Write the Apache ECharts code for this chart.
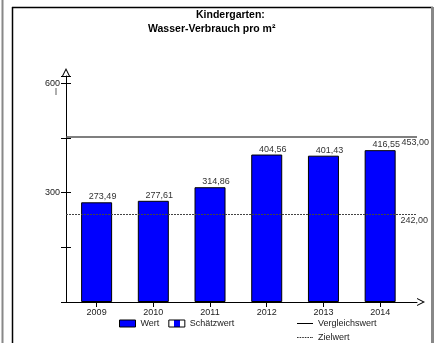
<!DOCTYPE html>
<html>
<head>
<meta charset="utf-8">
<script src="https://cdn.jsdelivr.net/npm/echarts@6/dist/echarts.min.js"></script>
<style>html,body{margin:0;padding:0;background:#fff;}#c{width:435px;height:343px;}</style>
</head>
<body>
<div id="c"></div>
<script>
const years = ['2009', '2010', '2011', '2012', '2013', '2014'];
const wert = [273.49, 277.61, 314.86, 404.56, 401.43, 416.55];
const schaetzwert = [];
const vergleichswert = 453.00;
const zielwert = 242.00;
const yLabelsShown = [300, 600];

const fmt = v => Number(v).toFixed(2).replace('.', ',');
const FONT = 'Liberation Sans, Arial, sans-serif';
const chart = echarts.init(document.getElementById('c'), null, {renderer: 'canvas'});
const arrowUp = 'path://M0,10 L5,0 L10,10 L8.6,10 L5,2.8 L1.4,10 Z';
const stripe = new echarts.graphic.LinearGradient(0, 0, 1, 0, [
  {offset: 0, color: '#fff'}, {offset: 0.32, color: '#fff'},
  {offset: 0.32, color: '#0000ff'}, {offset: 0.68, color: '#0000ff'},
  {offset: 0.68, color: '#fff'}, {offset: 1, color: '#fff'}
]);
const solidIcon = 'path://M0,0 L16,0 L16,1 L0,1 Z';
const dashIcon = 'path://M0,0h1.6v1h-1.6z M2.6,0h1.6v1h-1.6z M5.2,0h1.6v1h-1.6z M7.8,0h1.6v1h-1.6z M10.4,0h1.6v1h-1.6z M13,0h1.6v1h-1.6z M15.2,0h0.8v1h-0.8z';
const idx = years.map((y, i) => i);

chart.setOption({
  animation: false,
  backgroundColor: '#fff',
  textStyle: {fontFamily: FONT},
  title: [
    {text: 'Kindergarten:', left: 196, top: 10, padding: 0, textStyle: {fontSize: 10.5, fontWeight: 'bold', color: '#000', fontFamily: FONT}},
    {text: 'Wasser-Verbrauch pro m²', left: 148, top: 24, padding: 0, textStyle: {fontSize: 10.5, fontWeight: 'bold', color: '#000', fontFamily: FONT}}
  ],
  graphic: [
    {type: 'line', shape: {x1: 2.5, y1: 0, x2: 2.5, y2: 343}, style: {stroke: '#888', lineWidth: 2}, silent: true},
    {type: 'line', shape: {x1: 12.5, y1: 7, x2: 12.5, y2: 343}, style: {stroke: '#000', lineWidth: 1.5}, silent: true},
    {type: 'line', shape: {x1: 12, y1: 7.5, x2: 433, y2: 7.5}, style: {stroke: '#000', lineWidth: 1.5}, silent: true},
    {type: 'line', shape: {x1: 432.5, y1: 7, x2: 432.5, y2: 343}, style: {stroke: '#888', lineWidth: 3}, silent: true},
    {type: 'text', left: 55, top: 88, style: {text: 'l', font: '9px ' + FONT, fill: '#333'}, silent: true}
  ],
  legend: [
    {
      left: 119, top: 319, padding: 0, itemWidth: 16, itemHeight: 7, itemGap: 9,
      icon: 'rect',
      textStyle: {fontSize: 9, color: '#222', fontFamily: FONT},
      data: [
        {name: 'Wert', itemStyle: {color: '#0000ff', borderColor: '#000', borderWidth: 1}},
        {name: 'Schätzwert', itemStyle: {color: stripe, borderColor: '#000', borderWidth: 1}}
      ]
    },
    {
      left: 297, top: 318, padding: 0, height: 40, orient: 'vertical', itemWidth: 16, itemHeight: 1, itemGap: 3,
      textStyle: {fontSize: 9, color: '#222', fontFamily: FONT, lineHeight: 11},
      data: [
        {name: 'Vergleichswert', icon: solidIcon, itemStyle: {color: '#000', borderWidth: 0}},
        {name: 'Zielwert', icon: dashIcon, itemStyle: {color: '#333', borderWidth: 0}}
      ]
    }
  ],
  grid: {left: 66, right: 18, top: 76, bottom: 41, containLabel: false},
  xAxis: {
    type: 'value',
    min: -0.54, max: 5.65,
    axisLine: {show: true, onZero: false, lineStyle: {color: '#000', width: 1}, symbol: ['none', arrowUp], symbolSize: [8, 8], symbolOffset: [0, 4]},
    axisTick: {show: true, length: 5, lineStyle: {color: '#000'}, customValues: idx},
    axisLabel: {fontSize: 9, color: '#222', margin: 6, fontFamily: FONT, customValues: idx,
      formatter: v => years[Math.round(v)] || ''},
    splitLine: {show: false}
  },
  yAxis: [
    {
      type: 'value', min: 0, max: 620, interval: 150,
      axisLine: {show: true, onZero: false, lineStyle: {color: '#000', width: 1}, symbol: ['none', arrowUp], symbolSize: [8, 8], symbolOffset: [0, 4]},
      axisTick: {show: true, length: 5, lineStyle: {color: '#000'}},
      axisLabel: {fontSize: 9, color: '#222', margin: 6, fontFamily: FONT,
        formatter: v => yLabelsShown.indexOf(v) >= 0 ? String(v) : ''},
      splitLine: {show: false}
    },
    {
      type: 'value', min: 0, max: 620, interval: 150, position: 'left',
      axisLine: {show: false, onZero: false},
      axisTick: {show: true, inside: true, length: 5, lineStyle: {color: '#000'}},
      axisLabel: {show: false},
      splitLine: {show: false}
    }
  ],
  series: [
    {
      name: 'Wert', type: 'bar', stack: 'b', barWidth: 31,
      data: wert.map((v, i) => [i, v]),
      itemStyle: {color: '#0000ff', borderColor: '#000', borderWidth: 1},
      label: {show: true, position: 'top', distance: 1, offset: [6, 0], fontSize: 9, color: '#333', fontFamily: FONT,
        formatter: p => fmt(p.value[1])}
    },
    {
      name: 'Schätzwert', type: 'bar', stack: 'b', barWidth: 31, data: schaetzwert,
      itemStyle: {color: stripe, borderColor: '#000', borderWidth: 1}
    },
    {
      name: 'Vergleichswert', type: 'line', data: [], symbol: 'none',
      lineStyle: {color: '#000', width: 1}, itemStyle: {color: '#000'},
      markLine: {
        silent: true, symbol: 'none',
        lineStyle: {color: '#555', width: 1.5, type: 'solid'},
        label: {show: true, position: 'insideEndBottom', distance: 1, offset: [13, 0], fontSize: 9, color: '#333', fontFamily: FONT,
          formatter: () => fmt(vergleichswert)},
        data: [{yAxis: vergleichswert}]
      }
    },
    {
      name: 'Zielwert', type: 'line', data: [], symbol: 'none',
      lineStyle: {color: '#333', width: 1, type: [2, 1]}, itemStyle: {color: '#333'},
      markLine: {
        silent: true, symbol: 'none',
        lineStyle: {color: '#444', width: 1, type: [2, 1]},
        label: {show: true, position: 'insideEndBottom', distance: 2, offset: [13, 0], fontSize: 9, color: '#333', fontFamily: FONT,
          formatter: () => fmt(zielwert)},
        data: [{yAxis: zielwert}]
      }
    }
  ]
});
</script>
</body>
</html>
